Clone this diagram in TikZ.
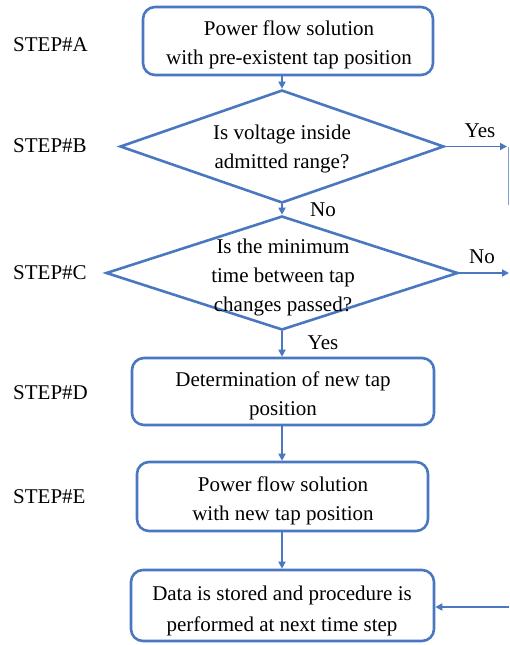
\documentclass[tikz,border=0pt]{standalone}
\usepackage{fontspec}
\setmainfont{Liberation Serif}
\usetikzlibrary{shapes.geometric,arrows.meta}
\definecolor{fc}{RGB}{74,120,192}
\tikzset{
  stepbox/.style={draw=fc,line width=2.6pt,rounded corners=12pt,inner sep=0pt},
  decision/.style={draw=fc,line width=2.6pt,shape=diamond,inner sep=0pt},
  dtext/.style={align=center,font=\fontsize{21}{29}\selectfont,inner sep=0pt},
  conn/.style={draw=fc,line width=1.8pt,-{Triangle[length=7pt,width=7pt]}},
  lbl/.style={font=\fontsize{21}{25}\selectfont,inner sep=0pt},
  steplbl/.style={font=\fontsize{21}{25}\selectfont,inner sep=0pt,anchor=west}
}
\begin{document}
\begin{tikzpicture}[x=1pt,y=-1pt]
\useasboundingbox (0,0) rectangle (509,645);
% shapes
\node[stepbox,minimum width=290pt,minimum height=68pt] (A) at (288,41) {};
\node[decision,minimum width=324pt,minimum height=113pt] (B) at (282,146.5) {};
\node[decision,minimum width=352pt,minimum height=114pt] (C) at (282,273) {};
\node[stepbox,minimum width=302pt,minimum height=67pt] (D) at (283,391.5) {};
\node[stepbox,minimum width=291pt,minimum height=69pt] (E) at (282.5,496.5) {};
\node[stepbox,minimum width=303pt,minimum height=71pt] (F) at (282.5,605.5) {};
% texts
\node[dtext] (At) at (289,44.5) {Power flow solution\\with pre-existent tap position};
\node[dtext] (Bt) at (282,148.5) {Is voltage inside\\admitted range?};
\node[dtext] (Ct) at (283,277.5) {Is the minimum\\time between tap\\changes passed?};
\node[dtext] (Dt) at (283,396) {Determination of new tap\\position};
\node[dtext] (Et) at (283,501) {Power flow solution\\with new tap position};
\node[dtext,font=\fontsize{21}{31}\selectfont] (Ft) at (282,611) {Data is stored and procedure is\\performed at next time step};
% step labels
\node[steplbl] (sA) at (13,45) {STEP\#A};
\node[steplbl] (sB) at (13,146) {STEP\#B};
\node[steplbl] (sC) at (13,273) {STEP\#C};
\node[steplbl] (sD) at (13,393) {STEP\#D};
\node[steplbl] (sE) at (13,497) {STEP\#E};
% free ends
\coordinate (yesEnd) at (507,146.5);
\coordinate (yesTop) at (508,146.5);
\coordinate (yesBot) at (508,205);
\coordinate (noEnd) at (509,273);
\coordinate (retStart) at (509,607);
\coordinate (xc) at (282,0);
% connectors
\draw[conn] (xc|-A.south) -- (B.north);
\draw[conn] (B.south) -- (C.north);
\draw[conn] (C.south) -- (xc|-D.north);
\draw[conn] (xc|-D.south) -- (xc|-E.north);
\draw[conn] (xc|-E.south) -- (xc|-F.north);
\draw[conn] (B.east) -- (yesEnd);
\draw[draw=fc!70,line width=1pt] (yesTop) -- (yesBot);
\draw[conn] (C.east) -- (noEnd);
\draw[conn] (retStart) -- (F.east|-retStart);
% labels
\node[lbl] (l1) at (480,131) {Yes};
\node[lbl] (l2) at (323,210) {No};
\node[lbl] (l3) at (482,257) {No};
\node[lbl] (l4) at (323,343) {Yes};
\end{tikzpicture}
\end{document}
